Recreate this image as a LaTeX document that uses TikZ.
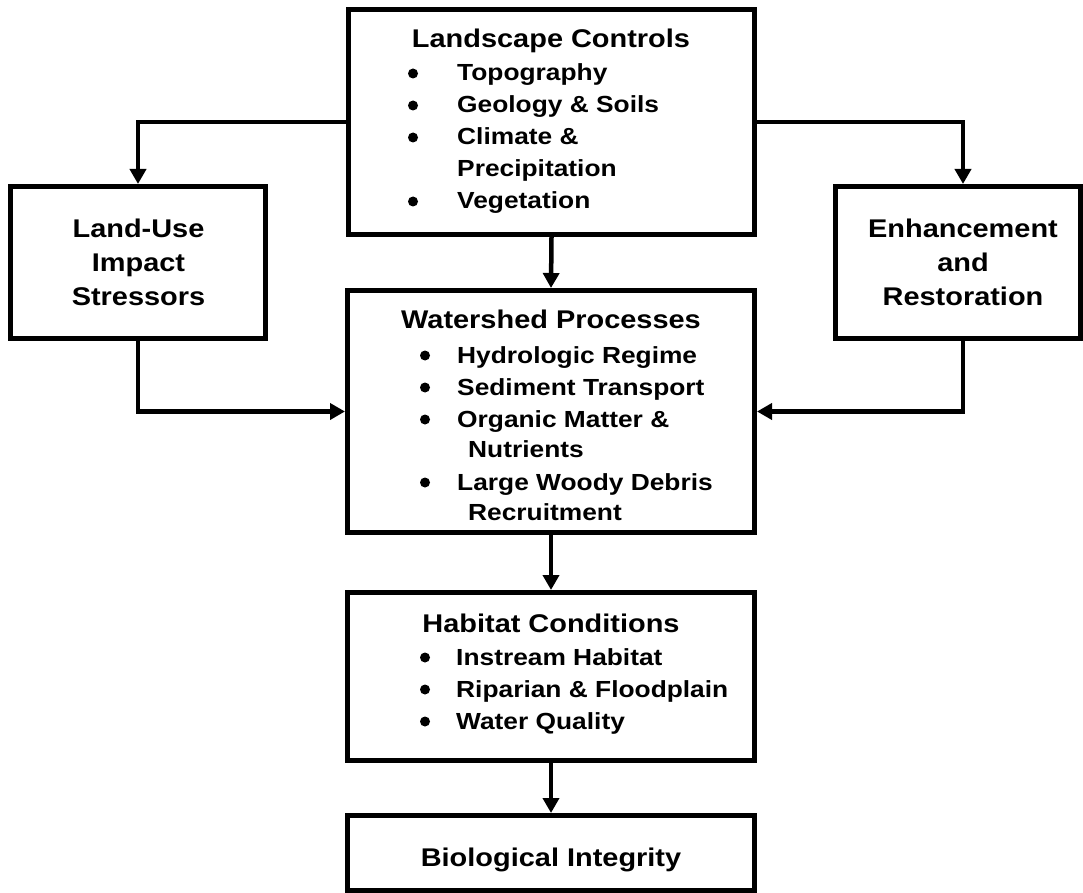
\documentclass[tikz,border=0pt]{standalone}
\usepackage{fontspec}
\setmainfont{Liberation Sans}[FakeStretch=1.13]
\usetikzlibrary{arrows.meta}
\tikzset{
  box/.style={draw, line width=5pt, rectangle, inner sep=0pt},
  conn/.style={draw, line width=4.5pt, -{Triangle[length=15pt,width=16pt]}},
  ttl/.style={font=\bfseries\fontsize{25.6}{30}\selectfont, inner sep=0pt, anchor=base},
  itm/.style={font=\bfseries\fontsize{23.3}{28}\selectfont, inner sep=0pt, anchor=base west},
  bul/.style={circle, fill, draw=none, inner sep=0pt, minimum size=10pt, yshift=7.5pt},
}
\begin{document}
\begin{tikzpicture}[x=1pt,y=-1pt]
\useasboundingbox (0,0) rectangle (1083,893);

% boxes
\node[box, minimum width=406pt, minimum height=225pt] (lc) at (551.5,122) {};
\node[box, minimum width=255pt, minimum height=152pt] (lu) at (138,262.5) {};
\node[box, minimum width=245pt, minimum height=152pt] (er) at (958,262.5) {};
\node[box, minimum width=407pt, minimum height=242pt] (wp) at (551,411.5) {};
\node[box, minimum width=407pt, minimum height=168pt] (hc) at (551,676.5) {};
\node[box, minimum width=407pt, minimum height=75pt] (bi) at (551,853) {};

% Landscape Controls
\node[ttl] (lcT) at (551,48) {Landscape Controls};
\node[bul] (lcB1) at (413,81) {};
\node[itm] (lcI1) at (457,81) {Topography};
\node[bul] (lcB2) at (413,113) {};
\node[itm] (lcI2) at (457,113) {Geology \& Soils};
\node[bul] (lcB3) at (413,145) {};
\node[itm] (lcI3) at (457,145) {Climate \&};
\node[itm] (lcI3b) at (457,177) {Precipitation};
\node[bul] (lcB4) at (413,209) {};
\node[itm] (lcI4) at (457,209) {Vegetation};

% side boxes
\node[ttl] (luT1) at (138.5,237) {Land-Use};
\node[ttl] (luT2) at (138.5,271) {Impact};
\node[ttl] (luT3) at (138.5,305) {Stressors};
\node[ttl] (erT1) at (963,237) {Enhancement};
\node[ttl] (erT2) at (963,271) {and};
\node[ttl] (erT3) at (963,305) {Restoration};

% Watershed Processes
\node[ttl] (wpT) at (551,328) {Watershed Processes};
\node[bul] (wpB1) at (425,363) {};
\node[itm] (wpI1) at (457,363) {Hydrologic Regime};
\node[bul] (wpB2) at (425,395) {};
\node[itm] (wpI2) at (457,395) {Sediment Transport};
\node[bul] (wpB3) at (425,427) {};
\node[itm] (wpI3) at (457,427) {Organic Matter \&};
\node[itm] (wpI3b) at (468,457) {Nutrients};
\node[bul] (wpB4) at (425,490) {};
\node[itm] (wpI4) at (457,490) {Large Woody Debris};
\node[itm] (wpI4b) at (468,520) {Recruitment};

% Habitat Conditions
\node[ttl] (hcT) at (551,632) {Habitat Conditions};
\node[bul] (hcB1) at (425,665) {};
\node[itm] (hcI1) at (456,665) {Instream Habitat};
\node[bul] (hcB2) at (425,697) {};
\node[itm] (hcI2) at (456,697) {Riparian \& Floodplain};
\node[bul] (hcB3) at (425,729) {};
\node[itm] (hcI3) at (456,729) {Water Quality};

% Biological Integrity
\node[ttl] (biT) at (551,866) {Biological Integrity};

% connectors
\draw[conn] (lc.west) -| (lu.north);
\draw[conn] (lc.east) -| ([xshift=5pt]er.north);
\draw[conn] (lc.south) -- (wp.north);
\draw[conn] (lu.south) |- (wp.west);
\draw[conn] ([xshift=5pt]er.south) |- (wp.east);
\draw[conn] (wp.south) -- (hc.north);
\draw[conn] (hc.south) -- (bi.north);
\end{tikzpicture}
\end{document}
